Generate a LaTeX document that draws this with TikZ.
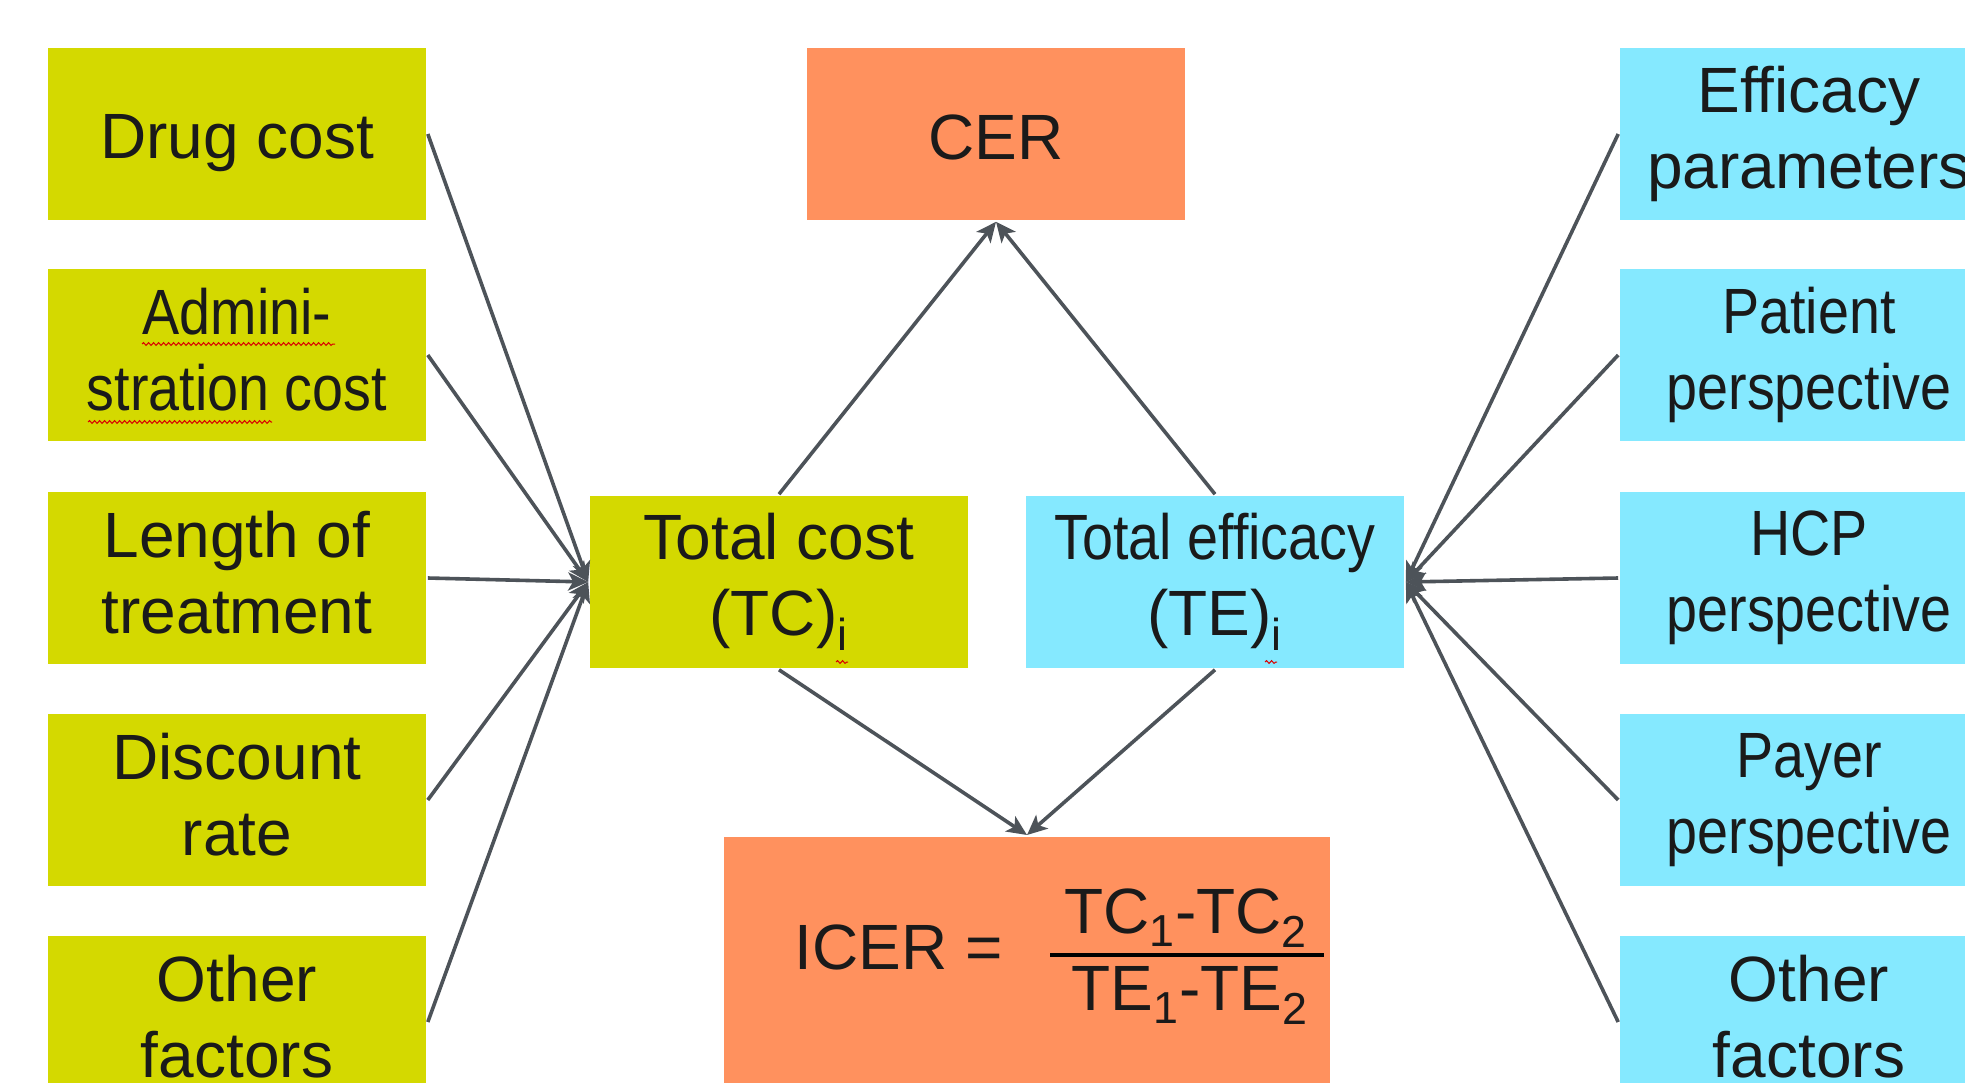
\documentclass[tikz,border=0pt]{standalone}
\usepackage{fontspec}
\setmainfont{Liberation Sans}
\newfontfamily\narrowfont{Liberation Sans}[FakeStretch=0.87]
\usepackage{xcolor}
\usepackage{tikz}
\usetikzlibrary{arrows.meta,decorations.pathmorphing}
\definecolor{costlime}{RGB}{212,217,0}
\definecolor{effcyan}{RGB}{133,233,255}
\definecolor{ratioorange}{RGB}{255,145,94}
\definecolor{linkgrey}{RGB}{77,83,89}
\definecolor{inkblack}{RGB}{26,26,26}
\newcommand{\boxstrut}{\rule[-6pt]{0pt}{37pt}}
\tikzset{every picture/.style={line width=1.8pt}}

\begin{document}
\begin{tikzpicture}[x=.5pt,y=-.5pt,>={Stealth[length=10pt,width=9pt,inset=2.5pt]},
 every node/.style={font=\fontsize{32}{38}\selectfont,text=inkblack},
 tile/.style={minimum width=189pt,minimum height=86pt,inner sep=0pt,align=center,
  execute at begin node=\boxstrut,execute at end node=\boxstrut},
 costbox/.style={tile,fill=costlime},
 effbox/.style={tile,fill=effcyan},
 ratiobox/.style={tile,fill=ratioorange},
 normaltype/.style={},
 condensed/.style={font=\fontsize{32}{38}\narrowfont},
 link/.style={draw=linkgrey,->},
 typo/.style={draw=red!85!black,line width=.5pt,decorate,
  decoration={snake,amplitude=.7pt,segment length=2.5pt}}]
 \useasboundingbox (0,0) rectangle (1965,1082);
 \clip (0,0) rectangle (1965,1082);

 % The two totals and the two ratios they feed.
 \node[ratiobox] (cer) at (996,134) {CER};
 \node[costbox] (tc) at (779,582) {Total cost\\(TC)\textsubscript{i}};
 \node[effbox] (te) at (1215,582) {{\narrowfont Total efficacy}\\(TE)\textsubscript{i}};
 \node[ratiobox,minimum width=303pt,minimum height=150pt,anchor=north]
  (icer) at (1027,835) {};
 \node[anchor=base west,inner sep=0pt] (icerlbl) at (793,969) {ICER =};
 \node[anchor=base,inner sep=0pt] (icernum) at (1186,933)
  {TC\textsubscript{1}-TC\textsubscript{2}};
 \node[anchor=base,inner sep=0pt] (icerden) at (1190,1010)
  {TE\textsubscript{1}-TE\textsubscript{2}};
 \draw[line width=2pt] (1050,955)--(1324,955);

 \draw[link] (tc.north)--(cer.south);
 \draw[link] (te.north)--(cer.south);
 \draw[link] (tc.south)--(icer.north);
 \draw[link] (te.south)--(icer.north);

 % Cost drivers on the left, efficacy inputs on the right.
 \foreach \row/\yy/\look/\txt in {1/134/normaltype/{Drug cost},
  2/355/condensed/{Admini-\\stration cost},3/578/normaltype/{Length of\\treatment},
  4/800/normaltype/{Discount\\rate},5/1022/normaltype/{Other\\factors}}{
  \node[costbox,\look] (cost\row) at (237,\yy) {\txt};
  \draw[link] (cost\row.east)--(tc.west);
 }
 \foreach \row/\yy/\look/\txt in {1/134/normaltype/{Efficacy\\parameters},
  2/355/condensed/{Patient\\perspective},3/578/condensed/{HCP\\perspective},
  4/800/condensed/{Payer\\perspective},5/1022/normaltype/{Other\\factors}}{
  \node[effbox,\look] (eff\row) at (1809,\yy) {\txt};
  \draw[link] (eff\row.west)--(te.east);
 }

 % spell-check marks
 \draw[typo] (142,344)--(335,344);
 \draw[typo] (88,422)--(272,422);
 \draw[typo] (836,662)--(848,662);
 \draw[typo] (1265,662)--(1277,662);
\end{tikzpicture}
\end{document}
